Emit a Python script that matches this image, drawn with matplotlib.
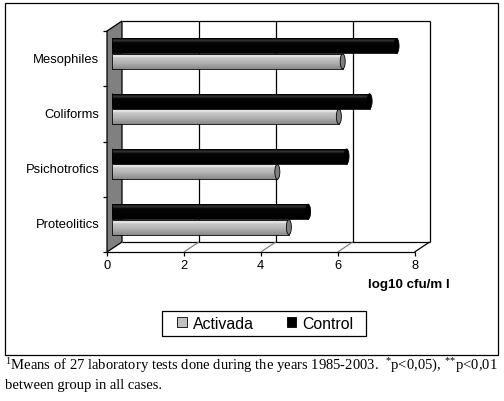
import numpy as np
import matplotlib
matplotlib.use('Agg')
import matplotlib.pyplot as plt
from matplotlib.patches import Rectangle, Polygon, Ellipse
from matplotlib.lines import Line2D
from matplotlib.colors import LinearSegmentedColormap

# ---------------- data ----------------
categories = ['Proteolitics', 'Psichotrofics', 'Coliforms', 'Mesophiles']
activada = [4.6, 4.3, 5.9, 6.0]
control = [5.1, 6.1, 6.7, 7.4]
xticks = [0, 2, 4, 6, 8]
series_names = ['Activada', 'Control']
xlabel = 'log10 cfu/m l'
foot1 = r"$^{1}$Means of 27 laboratory tests done during the years 1985-2003.  $^{*}$p<0,05), $^{*}$$^{*}$p<0,01"
foot2 = "between group in all cases."

plt.rcParams['font.family'] = ['Liberation Sans', 'DejaVu Sans']
plt.rcParams['mathtext.fontset'] = 'custom'
plt.rcParams['mathtext.rm'] = 'Liberation Serif'
plt.rcParams['mathtext.it'] = 'Liberation Serif:italic'
plt.rcParams['mathtext.bf'] = 'Liberation Serif:bold'

W, H = 504, 402
fig = plt.figure(figsize=(W / 100, H / 100), dpi=100)
fig.patch.set_facecolor('white')

# axes = plane in which the bars sit
ax = fig.add_axes([112 / W, 1 - 248 / H, 307.6 / W, 221 / H])
ax.set_xlim(0, 8)
ax.set_ylim(-0.5, 3.5)
ax.axis('off')

inv = fig.transFigure.inverted()
OFF = {'front': (-5, -5), 'back': (10, 5), 'bar': (0, 0)}


def P(x, yv, plane, ex=0, ey=0):
    X, Y = ax.transData.transform((x, yv))
    dx, dy = OFF[plane]
    return inv.transform((X + dx + ex, Y + dy + ey))


def fline(p0, p1, color='black', lw=0.9, z=-1):
    fig.add_artist(Line2D([p0[0], p1[0]], [p0[1], p1[1]], color=color, lw=lw,
                          transform=fig.transFigure, zorder=z, solid_capstyle='butt'))


ymin, ymax = ax.get_ylim()
xmin, xmax = ax.get_xlim()

# left wall
wall = Polygon([P(xmin, ymin, 'front'), P(xmin, ymax, 'front'),
                P(xmin, ymax, 'back'), P(xmin, ymin, 'back')],
               closed=True, facecolor='#808080', edgecolor='black', lw=0.9,
               transform=fig.transFigure, zorder=-1)
fig.add_artist(wall)

# back wall grid and frame
for xv in xticks[1:]:
    fline(P(xv, ymin, 'back'), P(xv, ymax, 'back'))
fline(P(xmin, ymax, 'back'), P(xmax, ymax, 'back'))

# floor
fline(P(xmin, ymin, 'front'), P(xmax, ymin, 'front'))
fline(P(xmin, ymin, 'back'), P(xmax, ymin, 'back'))
for xv in xticks[1:-1]:
    fline(P(xv, ymin, 'front'), P(xv, ymin, 'back'), color='#808080')
fline(P(xmax, ymin, 'front'), P(xmax, ymin, 'back'))

# ticks
for xv in xticks:
    fline(P(xv, ymin, 'front'), P(xv, ymin, 'front', ey=-4))
    fig.text(*P(xv, ymin, 'front', ey=-13.5), str(xv), ha='center', va='center',
             fontsize=9.3, color='black')
for yv in np.arange(ymin, ymax + 0.01, 1.0):
    fline(P(xmin, yv, 'front'), P(xmin, yv, 'front', ex=-4))

# category labels
for i, c in enumerate(categories):
    fig.text(*P(xmin, i, 'front', ex=-7.5), c, ha='right', va='center',
             fontsize=9.4, color='black')

# axis title
fig.text(450 / W, 1 - 285 / H, xlabel, ha='right', va='center', fontsize=9.6,
         fontweight='bold')

# ---------------- bars ----------------
y = np.arange(len(categories))
bh = 0.27
dy = 0.14
cap_w = 0.13

cm_a = LinearSegmentedColormap.from_list('ga', [(0, '#8a8a8a'), (0.45, '#b4b4b4'),
                                                (0.78, '#cacaca'), (0.88, '#f0f0f0'),
                                                (1.0, '#bdbdbd')])
cm_c = LinearSegmentedColormap.from_list('gc', [(0, '#000000'), (0.7, '#050505'),
                                                (0.85, '#3a3a3a'), (0.93, '#151515'),
                                                (1.0, '#000000')])
grad = np.linspace(0, 1, 64).reshape(-1, 1)

for vals, yy, cmap, fc, capc, zb in [(control, y + dy, cm_c, 'black', 'black', 2),
                                      (activada, y - dy, cm_a, '#c0c0c0', '#7f7f7f', 4)]:
    bars = ax.barh(yy, vals, height=bh, facecolor='none', edgecolor='black',
                   lw=0.6, zorder=zb + 0.5)
    for rect, v, yc in zip(bars, vals, yy):
        # left rounded end
        ax.add_patch(Ellipse((0, yc), cap_w * 0.8, bh, facecolor=fc,
                             edgecolor='black', lw=0.6, zorder=zb - 0.2))
        im = ax.imshow(grad, cmap=cmap, aspect='auto', origin='lower',
                       extent=[rect.get_x(), rect.get_x() + rect.get_width(),
                               rect.get_y(), rect.get_y() + rect.get_height()],
                       zorder=zb, interpolation='bilinear')
        im.set_clip_path(rect)
        ax.add_patch(Ellipse((v, yc), cap_w, bh, facecolor=capc,
                             edgecolor='black', lw=0.6, zorder=zb + 0.8))

ax.set_xlim(0, 8)
ax.set_ylim(-0.5, 3.5)

# ---------------- legend ----------------
handles = [Rectangle((0, 0), 1, 1, facecolor='#c0c0c0', edgecolor='black', lw=0.6),
           Rectangle((0, 0), 1, 1, facecolor='black', edgecolor='black', lw=0.6)]
leg = fig.legend(handles, series_names, loc='center', bbox_to_anchor=(265.5 / W, 1 - 324.5 / H),
                 ncol=2, fontsize=11.4, frameon=False,
                 handlelength=0.6, handleheight=0.6,
                 handletextpad=0.4, columnspacing=2.05, borderpad=0.3,
                 borderaxespad=0)
fig.add_artist(Rectangle((162 / W, 1 - 337 / H), 204 / W, 25 / H, fill=False,
                         edgecolor='black', lw=0.9, transform=fig.transFigure, zorder=-1))

# outer border
fig.add_artist(Rectangle((5 / W, 1 - 356 / H), 493 / W, 352 / H, fill=False,
                         edgecolor='black', lw=0.9, transform=fig.transFigure, zorder=-2))

# footnote
fig.text(5 / W, 1 - 370 / H, foot1, ha='left', va='baseline', fontsize=10.5,
         family='Liberation Serif')
fig.text(5 / W, 1 - 389 / H, foot2, ha='left', va='baseline', fontsize=10.5,
         family='Liberation Serif')

fig.savefig('out.png', dpi=100, facecolor='white')
